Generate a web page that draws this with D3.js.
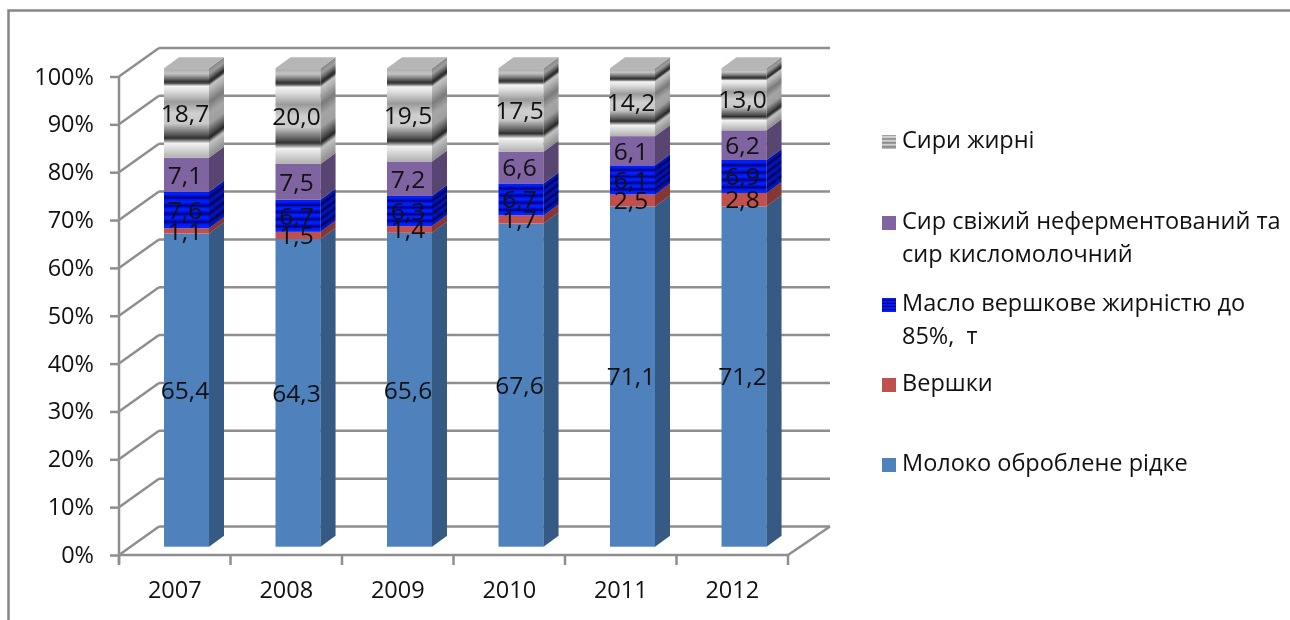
<!DOCTYPE html>
<html>
<head>
<meta charset="utf-8">
<script src="https://cdn.jsdelivr.net/npm/d3@7"></script>
<style>
  html, body { margin: 0; padding: 0; background: #fff; overflow: hidden; }
  text { font-family: "Open Sans", sans-serif; fill: #111; }
  #chart { filter: blur(0.4px); }
</style>
</head>
<body>
<svg id="chart" width="1290" height="620"></svg>
<script>
const years = ['2007', '2008', '2009', '2010', '2011', '2012'];
const milk = [65.4, 64.3, 65.6, 67.6, 71.1, 71.2];
const cream = [1.1, 1.5, 1.4, 1.7, 2.5, 2.8];
const butter = [7.6, 6.7, 6.3, 6.7, 6.1, 6.9];
const freshCheese = [7.1, 7.5, 7.2, 6.6, 6.1, 6.2];
const fatCheese = [18.7, 20.0, 19.5, 17.5, 14.2, 13.0];

const seriesKeys = ['milk', 'cream', 'butter', 'fresh', 'fat'];
const seriesValues = {milk, cream, butter, fresh: freshCheese, fat: fatCheese};
const seriesFill = {milk: '#4f81bd', cream: '#c0504d', butter: 'url(#blueBands)', fresh: '#8064a2', fat: 'url(#chrome)'};
const legendLines = {
  fat: ['Сири жирні'],
  fresh: ['Сир свіжий неферментований та', 'сир кисломолочний'],
  butter: ['Масло вершкове жирністю до', '85%,  т'],
  cream: ['Вершки'],
  milk: ['Молоко оброблене рідке']
};
const legendBaseline = {fat: 148, fresh: 229, butter: 311, cream: 391, milk: 471};

const svg = d3.select('#chart');
const gridColor = '#8e8e8e';

// 3d offsets of the wall and of the bars
const wallDx = 40, wallDy = -28.5;
const barWidth = 45, barDepthX = 15, barDepthY = -11, barLift = -8.3, barInset = 45;

const x = d3.scaleBand().domain(years).range([119, 788]);
const y = d3.scaleLinear().domain([0, 1]).range([555, 76.5]);

const rows = years.map((year, i) => {
  const r = {year};
  seriesKeys.forEach(k => { r[k] = seriesValues[k][i]; });
  return r;
});
const stacked = d3.stack().keys(seriesKeys).offset(d3.stackOffsetExpand)(rows);

// gradients
const defs = svg.append('defs');

function addGradient (id, stops) {
  defs.append('linearGradient')
    .attr('id', id)
    .attr('x1', 0).attr('y1', 0).attr('x2', 0).attr('y2', 1)
    .selectAll('stop')
    .data(stops)
    .enter().append('stop')
    .attr('offset', d => d[0])
    .attr('stop-color', d => d[1]);
}

addGradient('chrome', [
  [0, '#a9a9a9'], [0.06, '#c4c4c4'], [0.1, '#8a8a8a'], [0.15, '#333333'],
  [0.17, '#555555'], [0.2, '#f4f4f4'], [0.26, '#dcdcdc'], [0.38, '#9a9a9a'],
  [0.5, '#cfcfcf'], [0.62, '#c8c8c8'], [0.74, '#5a5a5a'], [0.78, '#2f2f2f'],
  [0.8, '#6a6a6a'], [0.84, '#f2f2f2'], [1, '#b0b0b0']
]);

const blueStops = [];
d3.range(0, 4.5, 0.25).forEach(t => {
  const phase = t % 1;
  const color = phase === 0.75 ? '#00007a' : (phase === 0.5 ? '#0010d0' : (phase === 0 ? '#0018f0' : '#0024ff'));
  blueStops.push([t / 4.5, color]);
});
addGradient('blueBands', blueStops);

addGradient('chromeKey', [
  [0, '#8a8a8a'], [0.14, '#e8e8e8'], [0.28, '#808080'], [0.42, '#e0e0e0'],
  [0.56, '#7a7a7a'], [0.7, '#e0e0e0'], [0.84, '#808080'], [1, '#c8c8c8']
]);

// chart border
svg.append('path')
  .attr('d', 'M8.5,620V10.5H1290')
  .attr('fill', 'none')
  .attr('stroke', '#868686')
  .attr('stroke-width', 2.5);

// walls
const grid = svg.append('g').attr('stroke', gridColor).attr('stroke-width', 2.5).attr('fill', 'none');
const gridTicks = d3.range(0, 11).map(d => d / 10);

grid.selectAll('.back')
  .data(gridTicks)
  .enter().append('line')
  .attr('class', 'back')
  .attr('x1', 119 + wallDx).attr('x2', 788 + wallDx + 2)
  .attr('y1', d => y(d) + wallDy).attr('y2', d => y(d) + wallDy);

grid.selectAll('.side')
  .data(gridTicks)
  .enter().append('line')
  .attr('class', 'side')
  .attr('x1', 119).attr('x2', 119 + wallDx)
  .attr('y1', d => y(d)).attr('y2', d => y(d) + wallDy);

grid.append('line')
  .attr('x1', 788).attr('x2', 788 + wallDx + 2)
  .attr('y1', y(0)).attr('y2', y(0) + wallDy);

// axes
const yAxis = d3.axisLeft(y).tickValues(gridTicks).tickFormat(d3.format('.0%')).tickSize(9).tickPadding(16);
const xAxis = d3.axisBottom(x).tickSize(10).tickPadding(16);

const yG = svg.append('g').attr('transform', 'translate(119,0)').call(yAxis);
const xG = svg.append('g').attr('transform', 'translate(0,555)').call(xAxis);

// band scale ticks sit in the band centre, the chart has them on the band edges
xG.selectAll('.tick line').remove();
xG.selectAll('.edge')
  .data(d3.range(0, years.length + 1))
  .enter().append('line')
  .attr('class', 'edge')
  .attr('x1', d => 119 + d * x.step()).attr('x2', d => 119 + d * x.step())
  .attr('y1', 0).attr('y2', 10);
xG.selectAll('.edge').attr('stroke', gridColor).attr('stroke-width', 2.5);

[yG, xG].forEach(g => {
  g.selectAll('path.domain').attr('stroke', gridColor).attr('stroke-width', 2.5);
  g.selectAll('.tick line').attr('stroke', gridColor).attr('stroke-width', 2.5);
  g.selectAll('text').attr('font-size', 23.5).style('fill', '#111');
});
xG.select('path.domain').attr('d', 'M119,0H788');
yG.select('path.domain').attr('d', `M0,${y(1)}V${y(0) + 9}`);

// bars
const bars = svg.append('g');

stacked.forEach(layer => {
  const key = layer.key;
  const g = bars.append('g');

  layer.forEach((seg, i) => {
    const left = x(years[i]) + barInset;
    const top = y(seg[1]) + barLift;
    const h = y(seg[0]) - y(seg[1]);

    g.append('rect')
      .attr('x', left).attr('y', top)
      .attr('width', barWidth).attr('height', h)
      .attr('fill', seriesFill[key]);

    const side = g.append('g')
      .attr('transform', `matrix(1,${barDepthY / barDepthX},0,1,${left + barWidth},${top})`);
    side.append('rect').attr('width', barDepthX).attr('height', h).attr('fill', seriesFill[key]);
    side.append('rect').attr('width', barDepthX).attr('height', h).attr('fill', '#000').attr('opacity', key === 'fat' ? 0.2 : 0.3);

    if (key === 'fat') {
      const r = left + barWidth;
      g.append('path')
        .attr('d', `M${left},${top}L${r},${top}l${barDepthX},${barDepthY}h${-barWidth}Z`)
        .attr('fill', '#b6b6b6');
    }
  });
});

// data labels
const labels = svg.append('g').attr('text-anchor', 'middle').attr('font-size', 24.5);

stacked.forEach(layer => {
  labels.selectAll(null)
    .data(layer)
    .enter().append('text')
    .attr('x', (d, i) => x(years[i]) + barInset + barWidth / 2 - 1.5)
    .attr('y', d => y((d[0] + d[1]) / 2) + barLift)
    .attr('dy', '0.36em')
    .text((d, i) => seriesValues[layer.key][i].toFixed(1).replace('.', ','));
});

// legend
const legend = svg.append('g');

seriesKeys.forEach(key => {
  const base = legendBaseline[key];
  legend.append('rect')
    .attr('x', 882).attr('y', base - 13)
    .attr('width', 14).attr('height', 14)
    .attr('fill', key === 'fat' ? 'url(#chromeKey)' : seriesFill[key]);
  legendLines[key].forEach((line, i) => {
    legend.append('text')
      .attr('x', 902).attr('y', base + i * 32.5)
      .attr('font-size', 23.5)
      .style('white-space', 'pre')
      .text(line);
  });
});
</script>
</body>
</html>
